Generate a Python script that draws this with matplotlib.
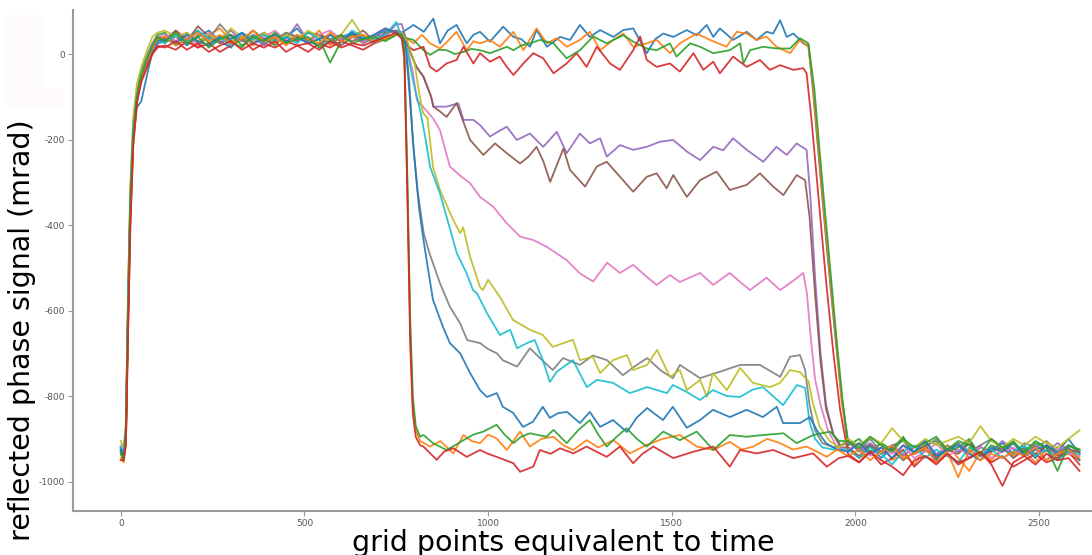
import matplotlib
matplotlib.use("Agg")
import matplotlib.pyplot as plt
from matplotlib.patches import Rectangle

plt.rcParams['axes.unicode_minus'] = False

# time grid for the start (rise + plateau) and the end (tail) of every trace
start_x = [0, 8, 14, 20, 26, 34, 44, 56, 70, 86, 100] + list(range(120, 751, 30))
tail_x = list(range(1980, 2611, 30))

# ---- trace 1..4 : stay up until ~1870 ----
blue1_start = [-920, -935, -880, -600, -360, -200, -125, -110, -55, 5, 25,
               30, 45, 20, 40, 55, 30, 15, 45, 35, 50, 25, 40, 60, 30, 20, 45, 35, 50, 25, 40, 55, 50]
blue1_mid = [(765, 50), (797, 68), (825, 52), (851, 83), (869, 25), (890, 55), (914, 68), (942, 25),
             (960, 45), (978, 52), (1005, 29), (1041, 64), (1069, 40), (1090, 35), (1114, 17), (1132, 56),
             (1160, 17), (1196, 40), (1223, 33), (1250, 68), (1277, 40), (1305, 56), (1341, 40), (1368, 56),
             (1395, 60), (1432, 2), (1455, 35), (1477, 48), (1504, 40), (1541, 56), (1568, 44), (1595, 68),
             (1613, 40), (1631, 60), (1667, 33), (1704, 52), (1731, 33), (1758, 52), (1776, 48), (1795, 79),
             (1813, 40), (1831, 48), (1858, 25), (1872, 20), (1885, -90), (1905, -290), (1925, -480),
             (1945, -660), (1962, -800)]
blue1_tail = [-905, -930, -915, -945, -920, -900, -935, -925, -950, -915, -930, -905, -940, -925, -910,
              -935, -920, -945, -915, -930, -900, -935]

orange1_start = [-935, -950, -890, -580, -330, -170, -90, -45, -10, 20, 40,
                 25, 55, 35, 15, 45, 60, 30, 40, 20, 50, 35, 25, 45, 30, 55, 20, 40, 30, 45, 25, 50, 55]
orange1_mid = [(765, 45), (797, 25), (820, 45), (842, 25), (869, 13), (890, 30), (914, 52), (942, 9),
               (960, 30), (978, 25), (1005, 33), (1032, 17), (1069, 52), (1096, 9), (1132, 60), (1160, 25),
               (1187, 37), (1214, 17), (1250, 33), (1277, 52), (1305, 9), (1341, 33), (1368, 48), (1395, 17),
               (1432, 25), (1459, 33), (1495, 2), (1522, 25), (1568, 48), (1604, 33), (1649, 17), (1677, 52),
               (1704, 48), (1731, 33), (1758, 41), (1785, 17), (1822, 2), (1849, 33), (1872, 17), (1885, -80),
               (1905, -280), (1925, -470), (1945, -650), (1962, -810)]
orange1_tail = [-920, -945, -930, -910, -950, -935, -960, -925, -940, -915, -945, -975, -930, -950, -920,
                -940, -930, -955, -925, -945, -935, -950]

green1_start = [-925, -940, -870, -560, -320, -160, -80, -40, -5, 25, 45,
                50, 20, 35, 55, 25, 40, 30, 15, 45, 35, 20, 50, 40, 25, 35, -20, 30, 45, 25, 40, 35, 50]
green1_mid = [(765, 40), (797, 33), (824, 9), (842, -2), (865, 10), (887, 9), (910, 0), (933, 5), (955, 12),
              (978, 9), (1005, 2), (1030, 10), (1051, 17), (1069, 9), (1090, 20), (1114, 25), (1141, 33),
              (1178, 25), (1214, -10), (1250, 9), (1286, 41), (1323, 25), (1341, 33), (1368, 44), (1395, 29),
              (1432, 13), (1459, 9), (1495, 25), (1513, -6), (1550, 25), (1577, 17), (1613, 2), (1658, 9),
              (1686, 25), (1695, -22), (1713, 9), (1749, 17), (1785, 13), (1822, 13), (1849, 37), (1872, 25),
              (1888, -80), (1908, -280), (1928, -470), (1948, -660), (1965, -810)]
green1_tail = [-915, -900, -930, -910, -925, -895, -935, -915, -905, -930, -920, -900, -940, -915, -925,
               -905, -935, -910, -920, -950, -915, -930]

red1_start = [-930, -945, -910, -640, -400, -210, -110, -60, -30, 0, 15,
              20, 10, 30, 15, 25, 5, 20, 35, 10, 25, 15, 30, 20, 5, 25, 15, 30, 20, 10, 25, 35, 45]
red1_mid = [(765, 45), (780, 20), (797, 9), (824, 17), (842, -30), (860, -41), (887, -22), (914, -14),
            (933, 17), (960, -22), (978, 2), (1005, -18), (1032, -6), (1051, -30), (1069, -49), (1096, -22),
            (1123, 2), (1150, -10), (1178, -45), (1214, -22), (1241, 2), (1268, -30), (1296, 17), (1332, -22),
            (1359, -37), (1395, 9), (1414, 41), (1432, -14), (1459, -30), (1495, -22), (1522, -41), (1559, 2),
            (1586, -37), (1613, -18), (1631, -45), (1667, -6), (1704, -30), (1740, -14), (1767, -37),
            (1795, -26), (1831, -37), (1858, -33), (1867, -45), (1880, -150), (1900, -340), (1920, -530),
            (1940, -700), (1958, -830)]
red1_tail = [-935, -955, -930, -960, -945, -925, -965, -940, -955, -935, -960, -945, -930, -955, -940,
             -965, -950, -935, -955, -945, -930, -960]

# ---- trace 5..10 : partial drops ----
purple_start = [-920, -935, -880, -590, -350, -180, -95, -50, -15, 20, 35,
                40, 30, 50, 25, 45, 35, 55, 30, 40, 20, 45, 35, 70, 30, 45, 25, 40, 50, 30, 45, 40, 70]
purple_mid = [(765, 70), (775, 40), (790, 0), (805, -30), (824, -53), (845, -100), (851, -123), (887, -123),
              (919, -115), (933, -154), (960, -154), (978, -166), (1005, -193), (1030, -180), (1051, -170),
              (1078, -201), (1114, -186), (1150, -217), (1187, -182), (1214, -232), (1250, -186), (1277, -209),
              (1305, -197), (1323, -240), (1359, -213), (1395, -224), (1432, -217), (1468, -205), (1504, -201),
              (1541, -228), (1577, -248), (1613, -217), (1640, -225), (1667, -197), (1704, -224), (1749, -252),
              (1785, -217), (1813, -236), (1840, -209), (1867, -224), (1877, -330), (1890, -520), (1905, -700),
              (1920, -820), (1940, -890), (1960, -915)]
purple_tail = [-905, -925, -910, -930, -915, -940, -920, -905, -935, -925, -910, -945, -920, -930, -905,
               -925, -940, -915, -930, -910, -925, -935]

brown_start = [-925, -940, -885, -600, -360, -185, -100, -50, -15, 20, 40,
               35, 55, 30, 65, 40, 25, 45, 30, 55, 35, 25, 40, 30, 50, 45, 35, 20, 40, 55, 30, 50, 55]
brown_mid = [(765, 50), (775, 40), (790, 0), (805, -30), (824, -53), (845, -100), (851, -123), (870, -135),
             (887, -147), (914, -115), (951, -201), (987, -236), (1019, -209), (1051, -232), (1087, -256),
             (1110, -240), (1132, -217), (1150, -250), (1169, -299), (1205, -221), (1223, -271), (1264, -310),
             (1296, -263), (1323, -252), (1359, -287), (1395, -322), (1432, -287), (1459, -279), (1486, -314),
             (1504, -283), (1541, -334), (1577, -295), (1622, -275), (1658, -318), (1704, -306), (1740, -279),
             (1776, -310), (1804, -330), (1840, -283), (1863, -295), (1875, -380), (1890, -560), (1905, -720),
             (1920, -830), (1940, -890), (1960, -920)]
brown_tail = [-920, -940, -915, -935, -925, -950, -930, -915, -945, -925, -935, -910, -940, -930, -920,
              -945, -925, -935, -915, -940, -925, -930]

pink_start = [-915, -930, -870, -570, -340, -175, -90, -45, -10, 25, 40,
              45, 30, 40, 20, 50, 35, 25, 45, 30, 40, 55, 30, 40, 25, 45, 55, 35, 40, 25, 45, 60, 50]
pink_mid = [(765, 40), (780, 10), (795, -40), (806, -108), (830, -130), (850, -150), (869, -178), (896, -263),
            (925, -285), (951, -302), (978, -334), (1014, -357), (1050, -395), (1087, -427), (1123, -435),
            (1160, -451), (1214, -482), (1250, -513), (1286, -532), (1324, -488), (1359, -512), (1395, -493),
            (1432, -521), (1459, -540), (1495, -517), (1522, -533), (1577, -512), (1613, -540), (1658, -512),
            (1686, -533), (1713, -552), (1758, -523), (1795, -552), (1831, -530), (1858, -512), (1868, -560),
            (1878, -660), (1890, -760), (1905, -820), (1925, -880), (1950, -920)]
pink_tail = [-925, -910, -940, -920, -935, -915, -945, -930, -910, -940, -925, -935, -915, -945, -930,
             -920, -940, -925, -950, -920, -935, -940]

gray_start = [-930, -945, -895, -610, -370, -190, -100, -55, -20, 15, 35,
              30, 40, 25, 45, 35, 70, 40, 30, 45, 25, 35, 50, 40, 30, 20, 35, 45, 30, 40, 25, 35, 50]
gray_mid = [(765, 50), (775, 35), (785, -60), (795, -200), (808, -320), (825, -420), (842, -470), (869, -536),
            (896, -591), (924, -630), (943, -669), (978, -676), (1000, -690), (1024, -700), (1040, -716),
            (1079, -731), (1114, -688), (1141, -711), (1176, -739), (1204, -711), (1250, -727), (1285, -705),
            (1324, -716), (1367, -751), (1400, -730), (1433, -711), (1470, -740), (1503, -758), (1522, -727),
            (1577, -758), (1631, -743), (1686, -727), (1740, -727), (1795, -755), (1822, -708), (1849, -704),
            (1863, -739), (1875, -820), (1890, -880), (1910, -910), (1940, -920)]
gray_tail = [-910, -925, -900, -930, -915, -905, -935, -920, -900, -925, -910, -930, -915, -900, -925,
             -935, -910, -920, -905, -930, -915, -925]

olive_start = [-905, -920, -860, -550, -310, -150, -70, -30, 5, 40, 50,
               55, 40, 50, 30, 45, 35, 60, 40, 30, 50, 25, 45, 35, 55, 40, 30, 45, 80, 40, 40, 35, 50]
olive_mid = [(765, 50), (780, 30), (800, -20), (812, -90), (823, -138), (835, -150), (850, -264), (869, -318),
             (905, -388), (924, -419), (932, -405), (951, -474), (978, -545), (986, -552), (1000, -528),
             (1032, -568), (1068, -622), (1114, -645), (1149, -657), (1176, -685), (1215, -673), (1231, -668),
             (1250, -716), (1285, -708), (1305, -746), (1340, -716), (1378, -704), (1395, -739), (1433, -727),
             (1460, -692), (1495, -755), (1522, -739), (1541, -786), (1577, -762), (1596, -802), (1612, -746),
             (1650, -786), (1686, -734), (1721, -769), (1767, -779), (1795, -769), (1822, -739), (1849, -744),
             (1872, -765), (1884, -816), (1903, -872), (1930, -905), (1955, -920)]
olive_tail = [-900, -915, -895, -910, -875, -905, -920, -900, -915, -905, -895, -910, -870, -905, -920,
              -900, -915, -895, -910, -920, -900, -880]

cyan_start = [-920, -935, -875, -590, -345, -180, -95, -50, -15, 20, 35,
              25, 45, 30, 55, 35, 40, 20, 50, 35, 45, 30, 40, 25, 50, 35, 45, 30, 55, 40, 35, 45, 75]
cyan_mid = [(765, 40), (780, 10), (795, -60), (815, -131), (830, -200), (842, -264), (869, -326), (890, -390),
            (915, -466), (940, -510), (959, -552), (970, -560), (997, -606), (1032, -657), (1060, -645),
            (1079, -688), (1106, -676), (1127, -669), (1149, -716), (1168, -767), (1187, -743), (1231, -716),
            (1269, -779), (1296, -762), (1340, -769), (1386, -793), (1433, -779), (1487, -793), (1503, -774),
            (1540, -790), (1577, -809), (1612, -786), (1650, -800), (1686, -802), (1720, -785), (1748, -779),
            (1803, -821), (1841, -774), (1863, -781), (1875, -860), (1890, -900), (1910, -920), (1940, -925)]
cyan_tail = [-925, -945, -920, -935, -960, -930, -915, -945, -925, -940, -955, -920, -935, -925, -945,
             -930, -915, -940, -925, -950, -930, -935]

# ---- trace 11..14 : slow and fast full drops ----
blue2_start = [-925, -940, -880, -595, -355, -185, -100, -55, -20, 15, 30,
               35, 25, 45, 30, 20, 40, 35, 50, 25, 35, 45, 30, 40, 25, 35, 45, 30, 50, 35, 45, 60, 50]
blue2_mid = [(765, 45), (775, 25), (785, -80), (798, -230), (812, -360), (825, -440), (836, -500), (850, -575),
             (877, -638), (896, -676), (924, -700), (951, -746), (978, -786), (997, -802), (1024, -793),
             (1040, -825), (1068, -839), (1095, -872), (1122, -860), (1149, -825), (1168, -851), (1190, -840),
             (1215, -837), (1250, -863), (1277, -837), (1305, -872), (1340, -856), (1378, -884), (1405, -850),
             (1433, -828), (1476, -856), (1503, -825), (1541, -874), (1577, -856), (1612, -832), (1658, -849),
             (1704, -832), (1748, -849), (1786, -825), (1803, -863), (1849, -863), (1876, -849), (1895, -880),
             (1920, -910), (1950, -925)]
blue2_tail = [-930, -910, -935, -920, -945, -915, -930, -905, -940, -925, -915, -935, -950, -920, -930,
              -910, -940, -925, -915, -935, -920, -950]

orange2_start = [-945, -955, -905, -620, -380, -200, -105, -55, -20, 15, 35,
                 40, 20, 35, 50, 30, 45, 25, 35, 55, 30, 40, 20, 45, 35, 25, 50, 30, 40, 45, 30, 35, 45]
orange2_mid = [(765, 40), (772, 0), (780, -300), (788, -650), (795, -820), (803, -880), (815, -905), (842, -918),
               (870, -905), (905, -934), (933, -891), (955, -905), (978, -910), (1000, -890), (1023, -899),
               (1051, -926), (1087, -883), (1114, -918), (1145, -900), (1178, -895), (1205, -915), (1232, -926),
               (1268, -903), (1300, -920), (1341, -903), (1386, -934), (1432, -914), (1475, -900), (1522, -891),
               (1568, -918), (1613, -926), (1658, -907), (1690, -925), (1722, -918), (1760, -900), (1795, -910),
               (1830, -925), (1867, -918), (1895, -930), (1922, -942), (1950, -925)]
orange2_tail = [-940, -925, -950, -930, -915, -945, -935, -920, -955, -930, -990, -925, -950, -935, -945,
                -930, -940, -920, -950, -935, -925, -945]

green2_start = [-935, -950, -890, -600, -360, -190, -100, -50, -15, 20, 40,
                30, 50, 25, 40, 15, 35, 45, 20, 40, 30, 50, 25, 35, 40, 15, 30, 45, 25, 35, 40, 30, 45]
green2_mid = [(765, 45), (772, 10), (780, -280), (788, -620), (795, -800), (803, -870), (815, -895), (824, -891),
              (850, -910), (887, -926), (910, -915), (933, -903), (960, -890), (987, -883), (1023, -867),
              (1045, -890), (1069, -910), (1090, -895), (1114, -887), (1159, -895), (1178, -879), (1214, -910),
              (1245, -880), (1277, -856), (1300, -890), (1323, -918), (1350, -895), (1377, -875), (1405, -900),
              (1432, -918), (1455, -900), (1477, -883), (1522, -903), (1568, -883), (1613, -926), (1658, -891),
              (1704, -895), (1749, -891), (1804, -887), (1840, -910), (1885, -891), (1931, -883), (1955, -905)]
green2_tail = [-905, -920, -895, -915, -930, -900, -920, -910, -895, -925, -905, -915, -935, -900, -920,
               -910, -930, -905, -920, -975, -915, -925]

red2_start = [-950, -950, -915, -650, -410, -215, -115, -65, -35, 0, 20,
              15, 30, 10, 25, 5, 20, 30, 10, 25, 15, 30, 5, 20, 25, 10, 30, 15, 25, 20, 30, 40, 50]
red2_mid = [(765, 35), (772, -10), (780, -320), (788, -680), (795, -840), (803, -895), (815, -915), (824, -918),
            (860, -949), (880, -930), (905, -922), (942, -942), (978, -926), (1000, -935), (1023, -942),
            (1069, -957), (1087, -977), (1123, -965), (1141, -926), (1170, -935), (1196, -922), (1232, -934),
            (1268, -918), (1295, -930), (1323, -942), (1359, -918), (1395, -957), (1420, -935), (1450, -918),
            (1504, -945), (1559, -930), (1613, -918), (1658, -965), (1686, -926), (1731, -934), (1776, -926),
            (1831, -945), (1885, -934), (1922, -965), (1955, -945)]
red2_tail = [-940, -955, -930, -950, -965, -985, -950, -940, -960, -935, -955, -945, -930, -960, -1010,
             -955, -940, -960, -935, -950, -945, -975]

traces = [
    ('#1f77b4', blue1_start, blue1_mid, blue1_tail),
    ('#ff7f0e', orange1_start, orange1_mid, orange1_tail),
    ('#2ca02c', green1_start, green1_mid, green1_tail),
    ('#d62728', red1_start, red1_mid, red1_tail),
    ('#9467bd', purple_start, purple_mid, purple_tail),
    ('#8c564b', brown_start, brown_mid, brown_tail),
    ('#e377c2', pink_start, pink_mid, pink_tail),
    ('#7f7f7f', gray_start, gray_mid, gray_tail),
    ('#bcbd22', olive_start, olive_mid, olive_tail),
    ('#17becf', cyan_start, cyan_mid, cyan_tail),
    ('#1f77b4', blue2_start, blue2_mid, blue2_tail),
    ('#ff7f0e', orange2_start, orange2_mid, orange2_tail),
    ('#2ca02c', green2_start, green2_mid, green2_tail),
    ('#d62728', red2_start, red2_mid, red2_tail),
]

fig = plt.figure(figsize=(10.92, 5.55), dpi=100)
ax = fig.add_axes([73 / 1092, 44.3 / 555, 1 - 73 / 1092, 500.7 / 555])

for color, start, mid, tail in traces:
    xs = start_x + [p[0] for p in mid] + tail_x
    ys = start + [p[1] for p in mid] + tail
    ax.plot(xs, ys, color=color, lw=1.3, alpha=0.9, solid_joinstyle='round')

ax.set_xlim(-130, 2644)
ax.set_ylim(-1068, 103)
ax.set_xticks([0, 500, 1000, 1500, 2000, 2500])
ax.set_yticks([0, -200, -400, -600, -800, -1000])

for side in ['top', 'right']:
    ax.spines[side].set_visible(False)
for side in ['left', 'bottom']:
    ax.spines[side].set_color('#9a9a9a')
    ax.spines[side].set_linewidth(1.5)
ax.tick_params(colors='#9a9a9a', labelcolor='#555555', labelsize=6.5, length=3.5, width=0.8, pad=2.5)

# axis titles sit outside the axes box in the original
fig.text(563 / 1092, 1 - 543 / 555, 'grid points equivalent to time', fontsize=20.5,
         ha='center', va='center', color='black')
fig.text(22 / 1092, 1 - 330 / 555, 'reflected phase signal (mrad)', fontsize=20.5,
         rotation=90, ha='center', va='center', color='black')

# faint pink panel remnants top left
fig.patches.append(Rectangle((7 / 1092, 1 - 105 / 555), 33 / 1092, 90 / 555,
                             transform=fig.transFigure, color='#fffafa', zorder=-1))
fig.patches.append(Rectangle((40 / 1092, 1 - 105 / 555), 22 / 1092, 16 / 555,
                             transform=fig.transFigure, color='#fffafa', zorder=-1))

fig.savefig('out.png', dpi=100)
